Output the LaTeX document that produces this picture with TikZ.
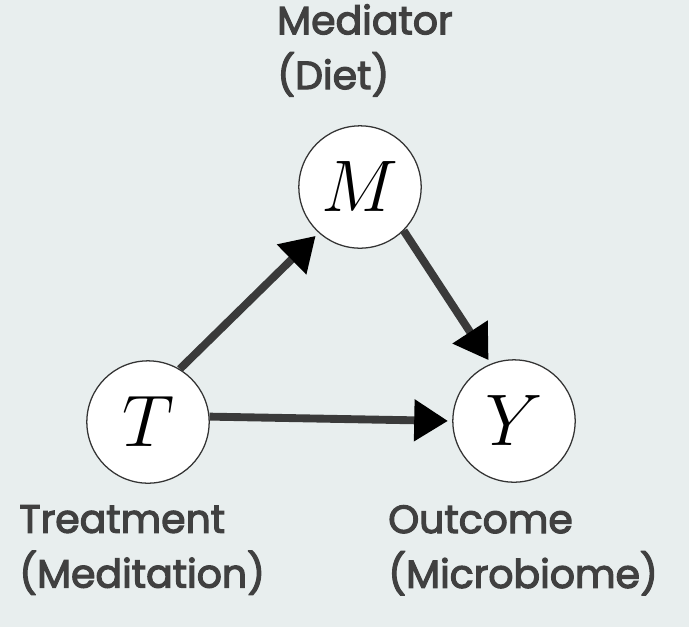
\RequirePackage{fix-cm}
\documentclass[tikz,border=0pt]{standalone}
\usepackage{fontspec}
\newfontfamily\labelfont[BoldFont={*}, BoldFeatures={FakeBold=3}]{Poppins}
\usetikzlibrary{arrows.meta}
\definecolor{bgcol}{RGB}{232,238,238}
\definecolor{txtcol}{RGB}{64,64,64}
\definecolor{shaftcol}{RGB}{58,58,58}
\tikzset{
  var/.style={circle, draw=black!80, line width=0.9pt, fill=white,
    minimum size=87pt, inner sep=0pt, font=\fontsize{52}{52}\selectfont},
  lbl/.style={anchor=north west, align=left, inner sep=0pt, text=txtcol,
    font=\labelfont\bfseries\fontsize{28}{39}\selectfont},
  edge/.style={draw=shaftcol, line width=5.6pt,
    -{Triangle[length=24pt,width=28.5pt,color=black,fill=black]}, shorten >=3pt}
}
\begin{document}
\begin{tikzpicture}[x=0.025cm, y=-0.025cm]
  \fill[bgcol] (0,0) rectangle (689,627);
  \useasboundingbox (0,0) rectangle (689,627);
  % variables
  \node[var] (m) at (360,187) {$M$};
  \node[var] (t) at (148,422) {$T$};
  \node[var] (y) at (514,421) {$Y$};
  % causal arrows
  \draw[edge] (t.59) -- (m.228);
  \draw[edge] (m.-45) -- (y.112);
  \draw[edge] (t.5) -- (y.180);
  % labels
  \node[lbl] (mlab) at (277,4) {Mediator\\(Diet)};
  \node[lbl] (tlab) at (19,505) {Treatment\\(Meditation)};
  \node[lbl] (ylab) at (388,505) {Outcome\\(Microbiome)};
\end{tikzpicture}
\end{document}
